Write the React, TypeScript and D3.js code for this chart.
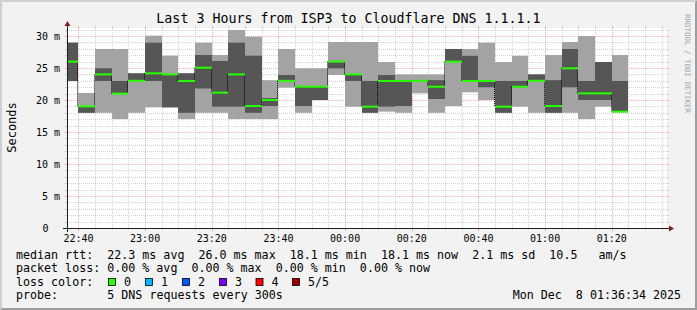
import React from 'react';
import * as d3 from 'd3';

const W = 697;
const H = 310;
const START = new Date(2025, 11, 7, 22, 36, 34);
const END = new Date(2025, 11, 8, 1, 36, 34);

// 5-minute sample start times
const barStarts = [
  '22:35', '22:40', '22:45', '22:50', '22:55', '23:00', '23:05', '23:10', '23:15', '23:20',
  '23:25', '23:30', '23:35', '23:40', '23:45', '23:50', '23:55', '00:00', '00:05', '00:10',
  '00:15', '00:20', '00:25', '00:30', '00:35', '00:40', '00:45', '00:50', '00:55', '01:00',
  '01:05', '01:10', '01:15', '01:20',
];
// sorted ping values (ms): min, 2nd, median, 4th, max
const pingMin = [22.97, 18.0, 18.0, 17.03, 18.0, 18.85, 18.85, 17.03, 18.0, 18.0, 17.03, 17.03, 17.03, 21.93, 18.0, 20.0, 23.9, 18.96, 18.0, 18.18, 18.0, 21.04, 18.0, 19.06, 21.2, 20.0, 18.0, 18.96, 18.0, 18.0, 18.0, 17.03, 18.96, 18.1];
const ping2 = [22.97, 18.0, 22.97, 21.0, 23.0, 22.97, 18.85, 18.0, 21.8, 18.96, 18.96, 18.0, 19.06, 23.0, 19.06, 20.0, 24.95, 22.97, 18.0, 18.96, 19.06, 23.0, 20.16, 25.94, 22.9, 21.98, 18.0, 22.0, 23.0, 18.0, 21.98, 20.0, 20.0, 18.1];
const median = [26.0, 19.0, 24.0, 21.0, 23.0, 24.17, 24.0, 22.97, 25.05, 21.15, 24.0, 19.06, 20.0, 23.0, 22.08, 22.08, 26.0, 24.0, 18.96, 22.97, 22.97, 23.0, 22.08, 26.0, 22.97, 22.97, 18.96, 22.08, 23.0, 19.06, 24.95, 21.04, 21.04, 18.18];
const ping4 = [28.96, 19.0, 24.95, 22.97, 24.17, 28.96, 24.0, 24.17, 27.03, 26.1, 28.96, 26.93, 20.3, 23.9, 22.1, 22.1, 26.0, 24.0, 22.97, 23.9, 22.97, 23.0, 23.1, 27.97, 26.9, 23.0, 22.97, 22.97, 24.0, 23.1, 27.97, 22.97, 25.94, 22.97];
const pingMax = [28.96, 21.1, 27.97, 27.97, 24.17, 30.05, 26.93, 24.17, 28.96, 27.03, 30.94, 29.9, 23.1, 27.97, 24.95, 24.95, 29.06, 29.06, 29.06, 25.94, 24.0, 24.0, 24.0, 27.97, 27.97, 28.96, 25.94, 26.9, 24.0, 27.03, 29.06, 30.0, 25.94, 27.03];

const yTicks = [0, 5, 10, 15, 20, 25, 30];
const yTickLabels = ['0', '5 m', '10 m', '15 m', '20 m', '25 m', '30 m'];
const xTickLabels = ['22:40', '23:00', '23:20', '23:40', '00:00', '00:20', '00:40', '01:00', '01:20'];

const title = 'Last 3 Hours from ISP3 to Cloudflare DNS 1.1.1.1';
const rttLine = 'median rtt:  22.3 ms avg  26.0 ms max  18.1 ms min  18.1 ms now  2.1 ms sd  10.5   am/s';
const lossLine = 'packet loss: 0.00 % avg  0.00 % max  0.00 % min  0.00 % now';
const lossColorLabels = ['0', '1', '2', '3', '4', '5/5'];
const lossColors = ['#26ff00', '#00b8ff', '#0059ff', '#7e00ff', '#ff0000', '#a00000'];
const probeText = '5 DNS requests every 300s';
const dateText = 'Mon Dec  8 01:36:34 2025';

const FONT = "'DejaVu Sans Mono', monospace";

function toDate(s: string) {
  const [h, m] = s.split(':').map(Number);
  return new Date(2025, 11, h >= 12 ? 7 : 8, h, m);
}

export default function App() {
  const x = d3.scaleTime().domain([START, END]).range([67, 667]);
  const y = d3.scaleLinear().domain([0, 31.25]).range([228, 28]);
  const X0 = 67, X1 = 667, Y0 = 228, Y1 = 28;

  const gridMinor = 'rgba(143,143,143,0.38)';
  const gridMajor = 'rgba(222,79,79,0.45)';

  const vTimes = d3.timeMinute.every(5)!.range(START, END);
  const hVals = d3.range(1, 32);

  const bars = barStarts.map((s, i) => {
    const t0 = toDate(s);
    const t1 = new Date(t0.getTime() + 5 * 60000);
    const bx0 = Math.round(Math.max(x(t0), X0));
    const bx1 = Math.round(x(t1));
    return { bx0, bx1, i };
  });

  const lx = [108.5, 145.5, 182.5, 219.5, 256, 292.5];
  const legendFs = 11.66;

  return (
    <svg width={W} height={H} style={{ position: 'absolute', left: 0, top: 0 }} fontFamily={FONT}>
      <rect x={0} y={0} width={W} height={H} fill="#f2f2f2" />
      {/* shaded frame */}
      <path d={`M0,0 H${W} L${W - 2},2 H2 V${H - 2} L0,${H} Z`} fill="#cfcfcf" />
      <path d={`M${W},0 V${H} H0 L2,${H - 2} H${W - 2} V2 Z`} fill="#9e9e9e" />
      {/* canvas */}
      <rect x={X0} y={Y1} width={X1 - X0} height={Y0 - Y1} fill="#ffffff" />

      {/* horizontal grid */}
      {hVals.map((v) => {
        const yy = Math.round(y(v)) + 0.5;
        const major = v % 5 === 0;
        const c = major ? gridMajor : gridMinor;
        return (
          <g key={'h' + v}>
            <line x1={X0} x2={X1} y1={yy} y2={yy} stroke={c} strokeDasharray="1,1" />
            <line x1={X0 - 2} x2={X0} y1={yy} y2={yy} stroke={c} />
            <line x1={X1} x2={X1 + 2} y1={yy} y2={yy} stroke={c} />
          </g>
        );
      })}
      {/* vertical grid */}
      {vTimes.map((t, k) => {
        const xx = Math.round(x(t)) + 0.5;
        const major = t.getMinutes() % 20 === 0;
        const c = major ? gridMajor : gridMinor;
        return (
          <g key={'v' + k}>
            <line x1={xx} x2={xx} y1={Y1} y2={Y0} stroke={c} strokeDasharray="1,1" />
            <line x1={xx} x2={xx} y1={Y0} y2={Y0 + (major ? 3 : 2)} stroke={c} />
            <line x1={xx} x2={xx} y1={Y1 - 2} y2={Y1} stroke={c} />
          </g>
        );
      })}

      {/* smoke: outer pair (min..max) */}
      {bars.map(({ bx0, bx1, i }) => (
        <rect key={'o' + i} x={bx0} width={bx1 - bx0} y={y(pingMax[i])} height={y(pingMin[i]) - y(pingMax[i])} fill="#a3a3a3" />
      ))}
      {/* smoke: inner pair */}
      {bars.map(({ bx0, bx1, i }) => (
        <rect key={'n' + i} x={bx0} width={bx1 - bx0} y={y(ping4[i])} height={Math.max(0, y(ping2[i]) - y(ping4[i]))} fill="#565656" />
      ))}
      {/* median steps */}
      {bars.slice(1).map(({ bx0, i }) => {
        const a = y(median[i - 1]);
        const b = y(median[i]);
        return (
          <line key={'s' + i} x1={bx0 - 0.5} x2={bx0 - 0.5} y1={Math.min(a, b)} y2={Math.max(a, b)} stroke="#000" strokeDasharray="1,1" />
        );
      })}
      {bars.map(({ bx0, bx1, i }) => (
        <rect key={'m' + i} x={bx0} width={bx1 - bx0} y={y(median[i]) - 1} height={2} fill="#26ff00" />
      ))}

      {/* axes */}
      <line x1={X0 - 4} x2={X1 + 4} y1={Y0 + 0.5} y2={Y0 + 0.5} stroke="#1f1f1f" />
      <line x1={X0 + 0.5} x2={X0 + 0.5} y1={Y0 + 4} y2={Y1 - 4} stroke="#1f1f1f" />
      <path d={`M${X1 + 2},${Y0 - 2.5} L${X1 + 2},${Y0 + 3.5} L${X1 + 7},${Y0 + 0.5} Z`} fill="#801f1f" />
      <path d={`M${X0 - 2.5},${Y1 - 2} L${X0 + 3.5},${Y1 - 2} L${X0 + 0.5},${Y1 - 7} Z`} fill="#801f1f" />

      {/* y labels */}
      {yTicks.map((v, k) => (
        <text key={'yl' + k} x={yTickLabels[k].includes('m') ? 60 : 48.5} y={y(v)} dy="0.35em" textAnchor="end" fontSize={10} fill="#000">
          {yTickLabels[k]}
        </text>
      ))}
      {/* x labels */}
      {xTickLabels.map((s) => (
        <text key={'xl' + s} x={x(toDate(s))} y={242} textAnchor="middle" fontSize={10} fill="#000">
          {s}
        </text>
      ))}

      {/* title */}
      <text x={348.5} y={23} textAnchor="middle" fontSize={13.3} fill="#000">{title}</text>
      {/* y axis title */}
      <text transform="translate(15.5,127.5) rotate(-90)" textAnchor="middle" fontSize={12} fill="#000">Seconds</text>
      {/* watermark */}
      <text transform="translate(685,14) rotate(90)" fontSize={7.5} fill="#a6a6a6" textLength={99} lengthAdjust="spacingAndGlyphs">RRDTOOL / TOBI OETIKER</text>

      {/* legend */}
      <g fontSize={legendFs} fill="#000" style={{ whiteSpace: 'pre' }}>
        <text x={16} y={258.5} xmlSpace="preserve">{rttLine}</text>
        <text x={16} y={272} xmlSpace="preserve">{lossLine}</text>
        <text x={16} y={285.7}>loss color:</text>
        {lossColorLabels.map((s, k) => (
          <g key={'lc' + k}>
            <rect x={lx[k]} y={278.5} width={7} height={7} fill={lossColors[k]} stroke="#000" strokeWidth={0.8} />
            <text x={lx[k] + 15.5} y={285.7}>{s}</text>
          </g>
        ))}
        <text x={16} y={299.3}>probe:</text>
        <text x={107.3} y={299.3}>{probeText}</text>
        <text x={512.7} y={299.3} xmlSpace="preserve">{dateText}</text>
      </g>
    </svg>
  );
}
